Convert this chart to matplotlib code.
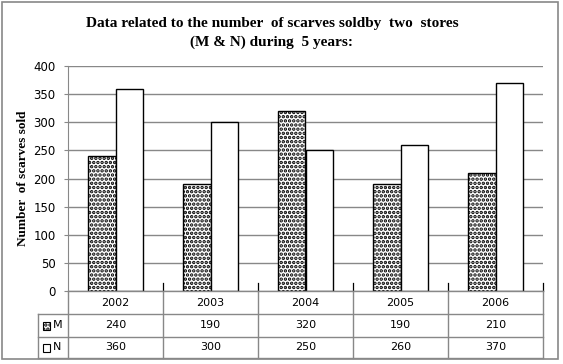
import matplotlib
matplotlib.use("Agg")
import matplotlib.pyplot as plt
from matplotlib.patches import Rectangle
from matplotlib.lines import Line2D
import numpy as np

years = ["2002", "2003", "2004", "2005", "2006"]
m_vals = [240, 190, 320, 190, 210]
n_vals = [360, 300, 250, 260, 370]
series_names = ["M", "N"]
title = "Data related to the number  of scarves soldby  two  stores\n(M & N) during  5 years:"
ylabel = "Number  of scarves sold"

W, H = 563, 364
fig = plt.figure(figsize=(W / 100, H / 100), dpi=100)

def fx(px):
    return px / W

def fy(py):
    return 1 - py / H

L, R, T, B = 68, 543, 66, 291
ax = fig.add_axes([fx(L), fy(B), fx(R) - fx(L), fy(T) - fy(B)])
x = np.arange(len(years))
bw = 0.285
plt.rcParams['hatch.linewidth'] = 1.7
ax.bar(x - bw / 2, m_vals, bw, facecolor="white", edgecolor="black", hatch="....", linewidth=1.0, zorder=3)
ax.bar(x + bw / 2, n_vals, bw, facecolor="white", edgecolor="black", linewidth=1.0, zorder=3)
ax.set_xlim(-0.5, len(years) - 0.5)
ax.set_ylim(0, 400)
ax.set_yticks(range(0, 401, 50))
ax.set_xticks([])
ax.yaxis.grid(True, color="#888888", linewidth=1.0, zorder=0)
for k in ["top", "right", "bottom"]:
    ax.spines[k].set_visible(False)
ax.spines["left"].set_color("#888888")
ax.tick_params(axis="y", length=3, color="#888888", labelsize=8.5, pad=6)
for lab in ax.get_yticklabels():
    lab.set_family("DejaVu Sans")
# category boundary ticks extending into the plot
for b in np.arange(-0.5, len(years), 1.0)[1:]:
    ax.plot([b, b], [0, 14], color="black", linewidth=0.9, zorder=4, clip_on=False)

fig.text(fx(272), fy(33), title, ha="center", va="center", family="Liberation Serif",
         fontweight="bold", fontsize=11, linespacing=1.55)
fig.text(fx(23), (fy(T) + fy(B)) / 2, ylabel, rotation=90, ha="center", va="center",
         family="Liberation Serif", fontweight="bold", fontsize=9.5)

# data table
rows_y = [291, 314, 337, 358]
gray = "#888888"
col_edges = [L + (R - L) * i / len(years) for i in range(len(years) + 1)]
lines = []
lines.append(([fx(L), fx(R)], [fy(291), fy(291)]))
for yy in rows_y[1:]:
    lines.append(([fx(38), fx(R)], [fy(yy), fy(yy)]))
lines.append(([fx(38), fx(38)], [fy(314), fy(358)]))
for ce in col_edges:
    lines.append(([fx(ce), fx(ce)], [fy(291), fy(358)]))
for xs, ys in lines:
    fig.add_artist(Line2D(xs, ys, color=gray, linewidth=1.0))

for i, yr in enumerate(years):
    cx = fx((col_edges[i] + col_edges[i + 1]) / 2)
    fig.text(cx, fy(302.5), yr, ha="center", va="center", fontsize=8, family="DejaVu Sans")
    fig.text(cx, fy(325.5), str(m_vals[i]), ha="center", va="center", fontsize=8, family="DejaVu Sans")
    fig.text(cx, fy(347.5), str(n_vals[i]), ha="center", va="center", fontsize=8, family="DejaVu Sans")

# legend keys
fig.add_artist(Rectangle((fx(43), fy(330)), fx(7), fy(322) - fy(330), facecolor="white",
                         edgecolor="black", hatch="....", linewidth=0.8, transform=fig.transFigure))
fig.add_artist(Rectangle((fx(43), fy(352)), fx(7), fy(344) - fy(352), facecolor="white",
                         edgecolor="black", linewidth=0.8, transform=fig.transFigure))
fig.text(fx(53), fy(325.5), series_names[0], ha="left", va="center", fontsize=8, family="DejaVu Sans")
fig.text(fx(53), fy(347.5), series_names[1], ha="left", va="center", fontsize=8, family="DejaVu Sans")

# outer border
fig.add_artist(Rectangle((fx(1.5), fy(359)), fx(558) - fx(1.5), fy(2) - fy(359), facecolor="none",
                         edgecolor=gray, linewidth=1.2, transform=fig.transFigure))

fig.savefig("out.png", dpi=100)
